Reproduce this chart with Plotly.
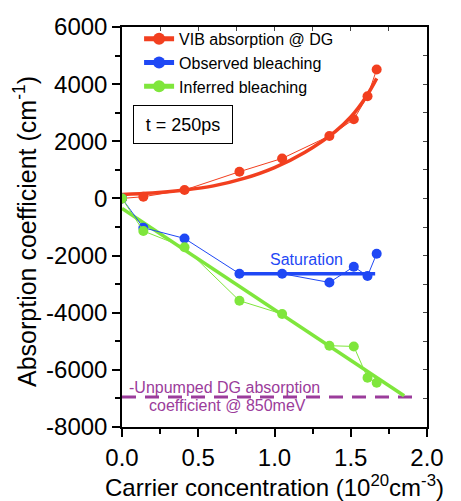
import plotly.graph_objects as go

# ---- data ----
carrier = [0.0, 0.14, 0.41, 0.77, 1.05, 1.36, 1.52, 1.61, 1.67]
vib_absorption = [0, 60, 295, 935, 1400, 2185, 2770, 3575, 4515]
observed_bleach = [0, -1025, -1400, -2635, -2635, -2940, -2390, -2715, -1935]
inferred_bleach = [0, -1140, -1710, -3580, -4045, -5155, -5180, -6275, -6450]

vib_fit_x = [0.0, 0.2, 0.4, 0.6, 0.8, 1.0, 1.2, 1.4, 1.5, 1.6, 1.67]
vib_fit_y = [140, 190, 290, 440, 700, 1080, 1620, 2350, 2850, 3550, 4200]

sat_x = [0.77, 1.66]
sat_y = [-2635, -2635]

inf_fit_x = [0.0, 1.85]
inf_fit_y = [-350, -6905]

unpumped_x = [0.0, 1.92]
unpumped_y = [-6950, -6950]

x_tickvals = [0.0, 0.5, 1.0, 1.5, 2.0]
x_ticktext = ["0.0", "0.5", "1.0", "1.5", "2.0"]
y_tickvals = [-8000, -6000, -4000, -2000, 0, 2000, 4000, 6000]
y_ticktext = ["-8000", "-6000", "-4000", "-2000", "0", "2000", "4000", "6000"]

RED = "#F23F1F"
BLUE = "#1F48F5"
GREEN = "#7FE63C"
PURPLE = "#9B3C9B"
FONT = "Liberation Sans, Arial, sans-serif"

fig = go.Figure()

# fits (no legend)
fig.add_trace(go.Scatter(x=unpumped_x, y=unpumped_y, mode="lines",
                         line=dict(color=PURPLE, width=3, dash="14px,9px"),
                         showlegend=False, hoverinfo="skip"))
fig.add_trace(go.Scatter(x=vib_fit_x, y=vib_fit_y, mode="lines", line_shape="spline",
                         line=dict(color=RED, width=3.5), showlegend=False))
fig.add_trace(go.Scatter(x=sat_x, y=sat_y, mode="lines",
                         line=dict(color=BLUE, width=3.5), showlegend=False))
fig.add_trace(go.Scatter(x=inf_fit_x, y=inf_fit_y, mode="lines",
                         line=dict(color=GREEN, width=3.5), showlegend=False))

# data
fig.add_trace(go.Scatter(x=carrier, y=vib_absorption, mode="lines+markers",
                         name="VIB absorption @ DG",
                         line=dict(color=RED, width=1),
                         marker=dict(color=RED, size=10)))
fig.add_trace(go.Scatter(x=carrier, y=observed_bleach, mode="lines+markers",
                         name="Observed bleaching",
                         line=dict(color=BLUE, width=1),
                         marker=dict(color=BLUE, size=10)))
fig.add_trace(go.Scatter(x=carrier, y=inferred_bleach, mode="lines+markers",
                         name="Inferred bleaching",
                         line=dict(color=GREEN, width=1),
                         marker=dict(color=GREEN, size=10)))

# invisible trace for mirrored inside ticks
fig.add_trace(go.Scatter(x=[0], y=[0], xaxis="x2", yaxis="y2", mode="markers",
                         marker=dict(opacity=0), showlegend=False, hoverinfo="skip"))

axis_common = dict(showline=True, linecolor="black", linewidth=1.5,
                   showgrid=False, zeroline=False, automargin=False,
                   tickfont=dict(family=FONT, size=24, color="black"),
                   ticks="outside", ticklen=8, tickwidth=1.5, tickcolor="black",
                   tickmode="array")

fig.update_layout(
    width=453, height=493,
    margin=dict(l=114, r=34, t=19, b=74),
    paper_bgcolor="white", plot_bgcolor="white",
    font=dict(family=FONT, color="black"),
    xaxis=dict(range=[0, 2.0], tickvals=x_tickvals, ticktext=x_ticktext,
               minor=dict(dtick=0.25, ticks="outside", ticklen=5, tickwidth=1.5, tickcolor="black"),
               title=dict(text="Carrier concentration (10<sup>20</sup>cm<sup>-3</sup>)",
                          font=dict(family=FONT, size=24), standoff=0),
               **axis_common),
    yaxis=dict(range=[-8000, 6000], tickvals=y_tickvals, ticktext=y_ticktext,
               minor=dict(dtick=1000, ticks="outside", ticklen=5, tickwidth=1.5, tickcolor="black"),
               **axis_common),
    xaxis2=dict(overlaying="x", side="top", range=[0, 2.0], dtick=0.25, automargin=False,
                showticklabels=False, ticks="inside", ticklen=4, tickcolor="#444",
                showline=True, linecolor="black", linewidth=1.5, showgrid=False, zeroline=False),
    yaxis2=dict(overlaying="y", side="right", range=[-8000, 6000], dtick=1000, automargin=False,
                showticklabels=False, ticks="inside", ticklen=4, tickcolor="#444",
                showline=True, linecolor="black", linewidth=1.5, showgrid=False, zeroline=False),
    legend=dict(x=0.056, y=1.013, xanchor="left", yanchor="top",
                bgcolor="rgba(0,0,0,0)", font=dict(family=FONT, size=16),
                tracegroupgap=0, itemsizing="constant"),
    showlegend=True,
)

# y-axis title placed as rotated annotation to match reference position
fig.add_annotation(xref="paper", yref="paper", x=-0.318, y=0.4875,
                   xanchor="center", yanchor="middle", textangle=-90,
                   text="Absorption coefficient (cm<sup>-1</sup>)", showarrow=False,
                   font=dict(family=FONT, size=25, color="black"))

fig.add_annotation(x=0.40, y=2590, text="t = 250ps", showarrow=False,
                   font=dict(family=FONT, size=18, color="black"),
                   bordercolor="black", borderwidth=1, borderpad=6,
                   width=86, height=25, bgcolor="white")
fig.add_annotation(x=1.207, y=-2150, text="Saturation", showarrow=False,
                   font=dict(family=FONT, size=16, color=BLUE))
fig.add_annotation(x=0.675, y=-6600, text="-Unpumped DG absorption", showarrow=False,
                   font=dict(family=FONT, size=16, color=PURPLE))
fig.add_annotation(x=0.69, y=-7230, text="coefficient @ 850meV", showarrow=False,
                   font=dict(family=FONT, size=16, color=PURPLE))

fig.write_html("out.html")
